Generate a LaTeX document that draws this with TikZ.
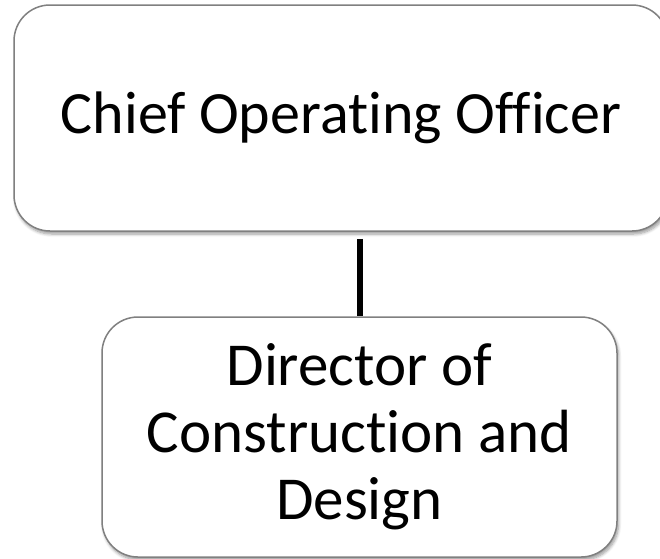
\documentclass[tikz,border=0pt]{standalone}
\usepackage{fontspec}
\setmainfont[Ligatures=NoCommon]{Carlito}
\usetikzlibrary{shadows.blur}
\begin{document}
\begin{tikzpicture}[x=1pt,y=-1pt]
\tikzset{
  orgbox/.style={draw=black!50, line width=1.5pt, rounded corners=36pt, fill=white,
    blur shadow={shadow xshift=1.5pt, shadow yshift=-3pt, shadow blur steps=6, shadow blur radius=3pt}},
  link/.style={line width=6pt, black}
}
\useasboundingbox (0,0) rectangle (660,558);
\node[orgbox, minimum width=654pt, minimum height=226pt, inner sep=0pt,
  font=\fontsize{60}{72}\selectfont] (coo) at (341,118) {Chief Operating Officer};
\node[orgbox, minimum width=515pt, minimum height=240pt, inner sep=0pt, align=center,
  font=\fontsize{61}{67}\selectfont] (dir) at (359.5,437) {Director of\\Construction and\\Design};
\draw[link] ([yshift=-7pt]coo.south -| dir.north) -- (dir.north);
\end{tikzpicture}
\end{document}
